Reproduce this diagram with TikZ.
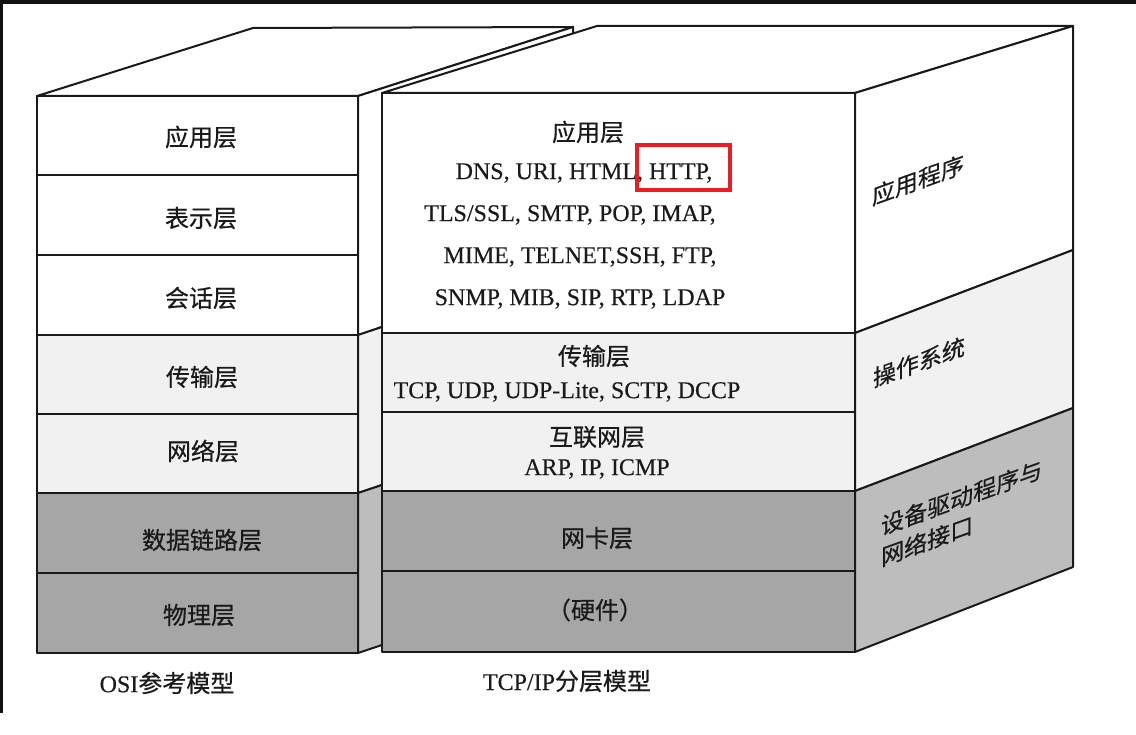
\documentclass[tikz,border=0pt]{standalone}
\usepackage{fontspec}
\setmainfont{Liberation Serif}[FakeBold=0.3]
\newfontfamily\cjk{Noto Sans CJK SC}[FakeBold=0.6]
\definecolor{dk}{HTML}{A6A6A6}
\definecolor{lt}{HTML}{F1F1F1}
\definecolor{sd}{HTML}{BDBDBD}
\definecolor{rd}{HTML}{ED1C24}
\definecolor{frm}{HTML}{111111}
\definecolor{ink}{HTML}{1A1A1A}
\begin{document}
\begin{tikzpicture}[x=1pt,y=-1pt,
  edge/.style={draw=ink, line width=2pt, line join=round},
  cn/.style={font=\cjk\fontsize{24}{30}\selectfont, text=ink, inner sep=0pt},
  en/.style={font=\fontsize{24}{30}\selectfont, text=ink, inner sep=0pt},
  sidetxt/.style={font=\cjk\fontsize{23}{31}\selectfont, text=ink, inner sep=0pt, transform shape, yslant=0.36}]
\useasboundingbox (0,0) rectangle (1136,735);
\fill[white] (0,0) rectangle (1136,735);
\fill[frm] (0,0) rectangle (1136,4);
\fill[frm] (0,0) rectangle (2.5,713);

% ---------- OSI block ----------
\filldraw[fill=white, edge] (37,96) -- (253,28) -- (573,27) -- (358,96) -- cycle;
\filldraw[fill=white, edge] (358,96) -- (573,27) -- (573,263) -- (358,335) -- cycle;
\filldraw[fill=lt, edge] (358,335) -- (573,263) -- (573,421) -- (358,493) -- cycle;
\filldraw[fill=sd, edge] (358,493) -- (573,421) -- (573,581) -- (358,653) -- cycle;
\foreach \a/\b/\c in {96/175/white, 175/255/white, 255/335/white, 335/414/lt, 414/493/lt, 493/573/dk, 573/653/dk}
  \filldraw[fill=\c, edge] (37,\a) rectangle (358,\b);

\node[cn] (o7) at (201,137) {应用层};
\node[cn] (o6) at (201,218) {表示层};
\node[cn] (o5) at (201,298) {会话层};
\node[cn] (o4) at (202,377) {传输层};
\node[cn] (o3) at (203,451) {网络层};
\node[cn] (o2) at (202,540) {数据链路层};
\node[cn] (o1) at (199,615) {物理层};
\node[en] (osi) at (167,683) {OSI{\cjk 参考模型}};

% ---------- TCP/IP block ----------
\filldraw[fill=white, edge] (382,93) -- (597,26) -- (1073,26) -- (855,93) -- cycle;
\filldraw[fill=white, edge] (855,93) -- (1073,26) -- (1073,250) -- (855,333) -- cycle;
\filldraw[fill=lt, edge] (855,333) -- (1073,250) -- (1073,408) -- (855,491) -- cycle;
\filldraw[fill=sd, edge] (855,491) -- (1073,408) -- (1073,567) -- (855,652) -- cycle;
\foreach \a/\b/\c in {93/333/white, 333/412/lt, 412/491/lt, 491/571/dk, 571/652/dk}
  \filldraw[fill=\c, edge] (382,\a) rectangle (855,\b);

\node[cn] (t4) at (588,132) {应用层};
\node[en] (t4a) at (584,173) {DNS, URI, HTML, HTTP,};
\node[en] (t4b) at (570,215) {TLS/SSL, SMTP, POP, IMAP,};
\node[en] (t4c) at (580,257) {MIME, TELNET,SSH, FTP,};
\node[en] (t4d) at (580,299) {SNMP, MIB, SIP, RTP, LDAP};
\node[cn] (t3) at (594,356) {传输层};
\node[en] (t3a) at (567,392) {TCP, UDP, UDP-Lite, SCTP, DCCP};
\node[cn] (t2) at (597,437) {互联网层};
\node[en] (t2a) at (597,469) {ARP, IP, ICMP};
\node[cn] (t1) at (597,538) {网卡层};
\node[cn] (t0) at (595,610) {（硬件）};
\node[en] (tcp) at (567,681) {TCP/IP{\cjk 分层模型}};

% side-face labels (sheared onto the face)
\begin{scope}[shift={(918,180)}]
  \node[sidetxt] (s3) at (0,0) {应用程序};
\end{scope}
\begin{scope}[shift={(919,362)}]
  \node[sidetxt] (s2) at (0,0) {操作系统};
\end{scope}
\begin{scope}[shift={(881,542)}]
  \node[sidetxt, anchor=west, align=left] (s1) at (0,0) {设备驱动程序与\\网络接口};
\end{scope}

% highlight box
\draw[rd, line width=4pt] (637,145) rectangle (730,190);
\end{tikzpicture}
\end{document}
